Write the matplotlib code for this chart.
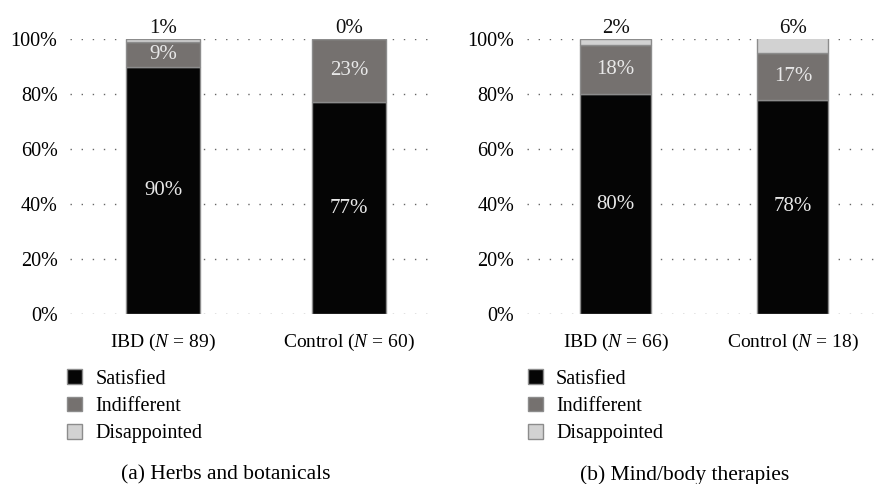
import numpy as np
import matplotlib
matplotlib.use("Agg")
import matplotlib.pyplot as plt
from matplotlib.patches import Patch

plt.rcParams['font.family'] = ['Liberation Serif', 'DejaVu Serif']
plt.rcParams['mathtext.fontset'] = 'custom'
plt.rcParams['mathtext.rm'] = 'Liberation Serif'
plt.rcParams['mathtext.it'] = 'Liberation Serif:italic'

groups_a = ['IBD ($N$ = 89)', 'Control ($N$ = 60)']
satisfied_a = [90, 77]
indifferent_a = [9, 23]
disappointed_a = [1, 0]

groups_b = ['IBD ($N$ = 66)', 'Control ($N$ = 18)']
satisfied_b = [80, 78]
indifferent_b = [18, 17]
disappointed_b = [2, 6]

series_names = ['Satisfied', 'Indifferent', 'Disappointed']
colors = ['#050505', '#75716f', '#d2d2d2']
edge = '#8c8c8c'
captions = ['(a) Herbs and botanicals', '(b) Mind/body therapies']

fig = plt.figure(figsize=(8.87, 4.84), dpi=100)
ax_a = fig.add_axes([0.079, 0.351, 0.409, 0.568])
ax_b = fig.add_axes([0.594, 0.351, 0.396, 0.568])

panels = [
    (ax_a, groups_a, satisfied_a, indifferent_a, disappointed_a, (-0.5, 1.45)),
    (ax_b, groups_b, satisfied_b, indifferent_b, disappointed_b, (-0.5, 1.48)),
]

for ax, groups, sat, ind, dis, xl in panels:
    x = np.arange(len(groups))
    sat = np.array(sat); ind = np.array(ind); dis = np.array(dis)
    for yv in range(0, 101, 20):
        ax.axhline(yv, color='#666666', lw=1.0, linestyle=(0, (1, 7)), zorder=0)
    ax.bar(x, sat, 0.4, color=colors[0], edgecolor=edge, lw=1, zorder=2)
    ax.bar(x, ind, 0.4, bottom=sat, color=colors[1], edgecolor=edge, lw=1, zorder=2)
    ax.bar(x, dis, 0.4, bottom=sat + ind, color=colors[2], edgecolor=edge, lw=1, zorder=2)
    for i in range(len(groups)):
        ax.text(x[i], sat[i] / 2, f'{sat[i]}%', ha='center', va='center',
                color='#e8e8e8', fontsize=15, zorder=3)
        ax.text(x[i], sat[i] + ind[i] / 2, f'{ind[i]}%', ha='center', va='center',
                color='#e8e8e8', fontsize=15, zorder=3)
        ax.text(x[i], 100.6, f'{dis[i]}%', ha='center', va='bottom',
                color='#111111', fontsize=15)
    ax.set_ylim(0, 100)
    ax.set_xlim(*xl)
    ax.set_yticks(range(0, 101, 20))
    ax.set_yticklabels([f'{v}%' for v in range(0, 101, 20)], fontsize=14.5)
    ax.set_xticks(x)
    ax.set_xticklabels(groups, fontsize=14)
    ax.tick_params(length=0, pad=9)
    ax.tick_params(axis='x', pad=12.5)
    for s in ax.spines.values():
        s.set_visible(False)

handles = [Patch(facecolor=c, edgecolor=edge, lw=1) for c in colors]
for lx, cap, cx in [(0.0665, captions[0], 0.254), (0.586, captions[1], 0.772)]:
    fig.legend(handles, series_names, loc='upper left', bbox_to_anchor=(lx, 0.254),
               frameon=False, fontsize=14.5, handlelength=0.75, handleheight=0.75,
               handletextpad=0.65, labelspacing=0.4, borderaxespad=0)
    fig.text(cx, 0.018, cap, ha='center', va='center', fontsize=15.5)

fig.savefig('out.png', dpi=100)
